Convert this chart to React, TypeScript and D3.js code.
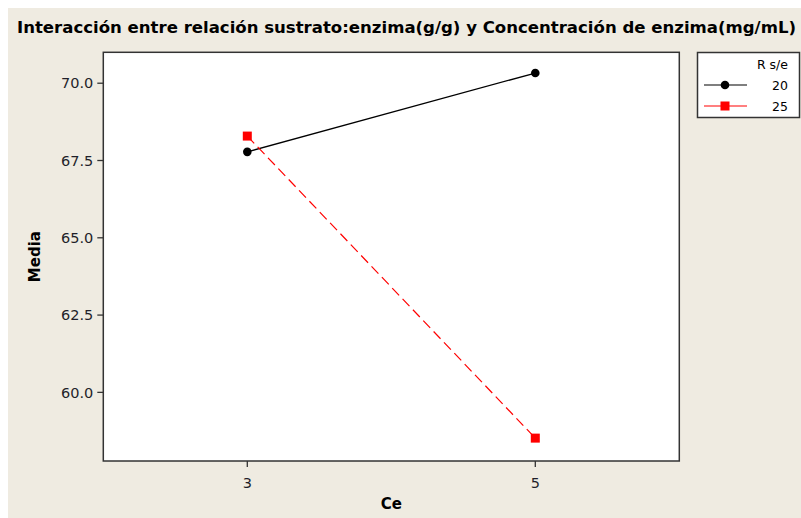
import React from "react";
import * as d3 from "d3";

// Means of the response for each enzyme concentration (Ce), by substrate:enzyme ratio (R s/e)
const ceLevels = [3, 5];
const seriesNames = ["20", "25"];
const mean20 = [67.78, 70.33];
const mean25 = [68.29, 58.52];
const yTicks = [60.0, 62.5, 65.0, 67.5, 70.0];

const W = 801;
const H = 518;
const plot = { left: 103.3, right: 679.3, top: 52.3, bottom: 461 };

export default function App() {
  const x = d3.scaleLinear().domain([2, 6]).range([plot.left, plot.right]);
  const y = d3.scaleLinear().domain([57.78, 71.0]).range([plot.bottom, plot.top]);

  const line = d3
    .line<[number, number]>()
    .x((d) => x(d[0]))
    .y((d) => y(d[1]));

  const pts20 = ceLevels.map((c, i) => [c, mean20[i]] as [number, number]);
  const pts25 = ceLevels.map((c, i) => [c, mean25[i]] as [number, number]);

  const font = "Tahoma, 'DejaVu Sans', Verdana, sans-serif";
  const textCol = "#1f1f2a";

  return (
    <svg
      width={W}
      height={H}
      style={{ position: "absolute", left: 0, top: 0, display: "block" }}
      fontFamily={font}
    >
      <rect x={0} y={0} width={W} height={H} fill="#ffffff" />
      <rect x={8} y={8} width={W - 8} height={H - 8} fill="#efebe1" />

      {/* title */}
      <text
        x={17}
        y={33}
        fontSize={15}
        fontWeight="bold"
        fill="#000"
        textLength={779}
        lengthAdjust="spacingAndGlyphs"
      >
        Interacción entre relación sustrato:enzima(g/g) y Concentración de enzima(mg/mL)
      </text>

      {/* plot frame */}
      <rect
        x={plot.left}
        y={plot.top}
        width={plot.right - plot.left}
        height={plot.bottom - plot.top}
        fill="#ffffff"
        stroke="#333"
        strokeWidth={1.5}
      />

      {/* y axis */}
      {yTicks.map((t) => (
        <g key={t}>
          <line x1={plot.left - 6} x2={plot.left} y1={y(t)} y2={y(t)} stroke="#333" strokeWidth={1.3} />
          <text
            x={plot.left - 10}
            y={y(t)}
            dy="0.36em"
            textAnchor="end"
            fontSize={14.5}
            fill={textCol}
          >
            {t.toFixed(1)}
          </text>
        </g>
      ))}
      <text
        transform={`translate(40,${(plot.top + plot.bottom) / 2}) rotate(-90)`}
        textAnchor="middle"
        fontSize={15}
        fontWeight="bold"
        fill="#000"
      >
        Media
      </text>

      {/* x axis */}
      {ceLevels.map((c) => (
        <g key={c}>
          <line x1={x(c)} x2={x(c)} y1={plot.bottom} y2={plot.bottom + 6} stroke="#333" strokeWidth={1.3} />
          <text x={x(c)} y={plot.bottom + 27} textAnchor="middle" fontSize={14.5} fill={textCol}>
            {c}
          </text>
        </g>
      ))}
      <text x={(plot.left + plot.right) / 2} y={509} textAnchor="middle" fontSize={15} fontWeight="bold" fill="#000">
        Ce
      </text>

      {/* series */}
      <path d={line(pts20) || ""} fill="none" stroke="#000" strokeWidth={1.3} />
      <path d={line(pts25) || ""} fill="none" stroke="#ff0000" strokeWidth={1.2} strokeDasharray="10,5" />
      {pts20.map((p, i) => (
        <circle key={i} cx={x(p[0])} cy={y(p[1])} r={4.3} fill="#000" />
      ))}
      {pts25.map((p, i) => (
        <rect key={i} x={x(p[0]) - 4.5} y={y(p[1]) - 4.5} width={9} height={9} fill="#ff0000" />
      ))}

      {/* legend */}
      <rect x={697.5} y={52.5} width={102} height={65} fill="#ffffff" stroke="#333" strokeWidth={1.5} />
      <text x={788} y={69} textAnchor="end" fontSize={12.5} fill="#000">
        R s/e
      </text>
      {seriesNames.map((s, i) => {
        const cy = 85 + i * 21;
        return (
          <g key={s}>
            <line x1={704} x2={747} y1={cy} y2={cy} stroke={i === 0 ? "#000" : "#ff0000"} strokeWidth={1.2} />
            {i === 0 ? (
              <circle cx={725} cy={cy} r={4.3} fill="#000" />
            ) : (
              <rect x={720.5} y={cy - 4.5} width={9} height={9} fill="#ff0000" />
            )}
            <text x={788} y={cy} dy="0.36em" textAnchor="end" fontSize={12.5} fill="#000">
              {s}
            </text>
          </g>
        );
      })}
    </svg>
  );
}
